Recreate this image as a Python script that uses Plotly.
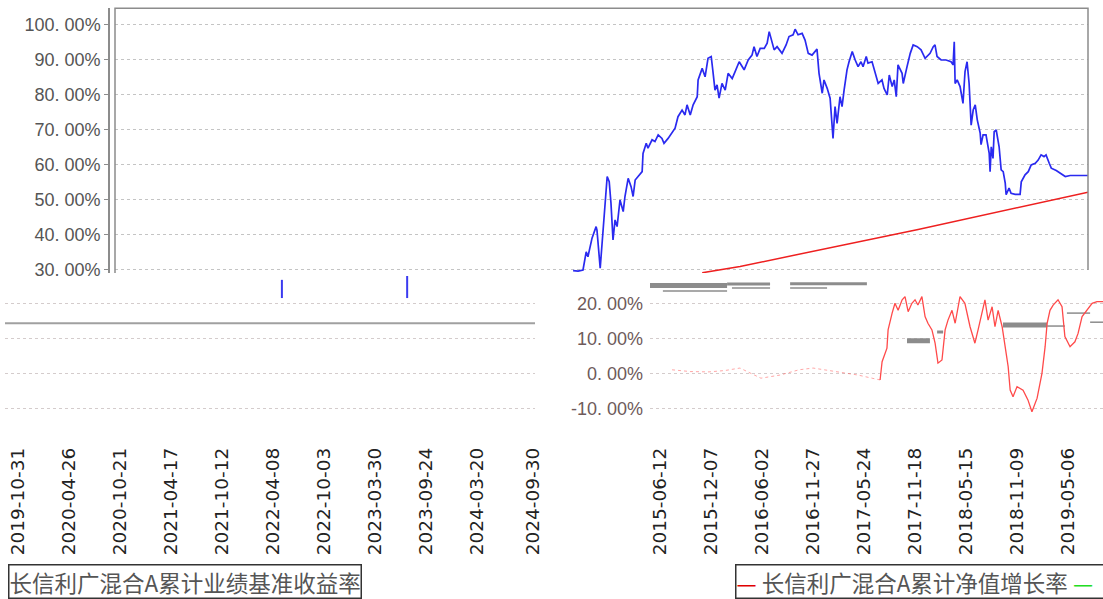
import plotly.graph_objects as go
import pandas as pd

W, H = 1103, 599

# ---------------- top panel (x = days from the first visible point) ----------------
top_days = [0,17,34,45,51,65,79,82,93,103,117,124,130,137,144,151,161,172,178,189,
            199,206,213,223,237,240,251,257,271,281,292,305,312,326,340,350,360,374,384,391,
            402,412,426,429,443,453,463,474,480,487,494,501,511,522,532,546,556,570,
            587,601,614,621,631,642,656,666,673,683,690,700,717,731,741,755,762,772,786,796,
            807,820,831,837,844,855,861,872,882,892,899,906,916,923,930,940,947,958,968,978,
            988,995,1006,1012,1026,1036,1047,1060,1067,1078,1085,1095,1102,1109,1115,1129,1133,1146,1157,1167,
            1181,1194,1208,1225,1236,1242,1249,1263,1280,1297,1304,1308,1311,1318,1328,1338,1345,1352,1359,1366,
            1373,1380,1387,1397,1400,1407,1417,1428,1431,1435,1441,1445,1452,1462,1469,1476,1483,1486,1496,1503,
            1517,1534,1538,1551,1562,1572,1586,1596,1606,1616,1623,1634,1641,1658,1675,1689,1706,1767]
top_fund = [29.6,29.5,29.8,35.0,33.6,38.9,42.2,41.2,30.3,42.2,56.5,55.0,48.9,38.4,44.1,42.2,49.8,46.5,50.8,56.0,
            53.6,50.8,55.5,56.5,57.9,63.1,66.0,64.6,67.0,66.5,68.4,67.4,66.0,67.4,69.3,70.3,73.6,75.5,74.1,77.0,
            74.1,77.0,79.3,84.1,87.4,85.0,90.3,90.8,86.5,81.2,82.7,78.9,83.1,81.2,86.0,84.5,86.5,89.3,
            87.0,89.8,91.2,93.6,90.8,93.1,93.1,94.6,97.9,94.6,92.7,93.6,91.7,94.1,96.5,97.0,98.6,97.0,97.4,95.5,
            91.7,91.2,92.2,92.9,86.0,80.3,84.1,81.7,78.9,67.4,76.5,71.7,79.3,76.5,81.2,87.0,89.3,92.2,89.8,87.9,
            89.3,87.9,90.8,88.9,89.3,86.5,83.1,84.1,81.7,79.8,85.5,82.2,84.1,79.3,88.4,86.0,83.1,87.9,91.7,94.1,
            93.6,92.7,90.3,91.7,93.6,94.1,90.8,89.8,89.8,89.3,88.4,95.0,83.1,84.1,82.2,77.4,86.5,89.3,83.1,71.2,
            75.5,77.0,72.7,68.9,65.6,68.4,68.4,63.1,57.9,65.0,61.7,69.3,69.8,65.0,58.4,57.9,54.6,51.3,53.2,51.7,
            51.4,51.4,55.0,57.0,57.9,59.8,60.3,61.2,62.7,62.2,62.7,60.3,58.9,58.2,57.4,56.5,56.8,56.8]
bench_days = [443, 573, 1184, 1767]
bench_vals = [29.0, 30.8, 41.4, 52.0]

top_yticks = [30, 40, 50, 60, 70, 80, 90, 100]
top_yticktext = ["30. 00%", "40. 00%", "50. 00%", "60. 00%", "70. 00%", "80. 00%", "90. 00%", "100. 00%"]

# ---------------- bottom panels ----------------
bl_ticks = ["2019-10-31", "2020-04-26", "2020-10-21", "2021-04-17", "2021-10-12", "2022-04-08",
            "2022-10-03", "2023-03-30", "2023-09-24", "2024-03-20", "2024-09-30"]
br_ticks = ["2015-06-12", "2015-12-07", "2016-06-02", "2016-11-27", "2017-05-24", "2017-11-18",
            "2018-05-15", "2018-11-09", "2019-05-06"]
bottom_yticks = [-10, 0, 10, 20]
bottom_yticktext = ["-10. 00%", "0. 00%", "10. 00%", "20. 00%"]

# bottom-left fragments
bl_gray_dates = ["2019-09-16", "2024-10-08"]
bl_gray_vals = [14.3, 14.3]
bl_blue_dates = ["2022-05-09", "2022-05-09", None, "2023-07-20", "2023-07-20"]
bl_blue_vals = [26.7, 21.5, None, 27.8, 21.5]

# bottom-right series (days from 2015-06-12)
br_base = "2015-06-12"
br_red_days = [42,105,171,227,279,352,419,485,534,618,691,740,764,
               768,775,792,796,810,820,831,845,855,866,879,890,900,914,925,935,949,960,970,984,
               995,1005,1019,1030,1047,1064,1082,1099,1110,1124,1134,1145,1159,1169,1180,1194,1204,1215,1222,1232,
               1246,1267,1284,1298,1316,1333,1344,1351,1361,1372,1389,1403,1413,1431,1448,1459,1473,1490,1508,1525,1546]
br_red_vals = [1.0,0.5,0.4,0.8,1.5,-1.4,-0.5,1.0,1.5,0.5,-0.5,-1.4,-2.0,
               -1.9,3.3,7.2,12.4,17.2,20,18,21,21.9,17.6,20,21,19.5,21.9,16.2,14.3,12.4,8.6,2.9,3.8,
               12.4,15.2,18,14.3,21.9,20,13.3,8.6,12.4,17.1,21,15.2,19,13.3,18,13.3,7.6,1.9,-4.8,-6.7,
               -3.8,-4.8,-7.6,-11,-7.1,0,7.6,14.3,18,19.5,21,19,10.5,7.6,9,11.4,16.2,18,20,20.5,20.5]
faint_n = 14

gray_thick_days = [862, 942, None, 1197, 1351, None, -35, 234]
gray_thick_vals = [9.3, 9.3, None, 13.8, 13.8, None, 25.1, 25.1]
gray_mid_days = [967, 988, None, 234, 384, None, 454, 722]
gray_mid_vals = [11.8, 11.8, None, 25.5, 25.5, None, 25.6, 25.6]
gray_thin_days = [1351, 1413, None, 1420, 1501, None, 1501, 1546, None, 10, 234, None, 251, 384, None, 454, 583]
gray_thin_vals = [13.5, 13.5, None, 17.2, 17.2, None, 14.6, 14.6, None, 23.5, 23.5, None, 24.4, 24.4, None, 24.4, 24.4]

legend_left = "长信利广混合A累计业绩基准收益率"
legend_right = "长信利广混合A累计净值增长率"


def to_dates(days):
    b = pd.Timestamp(br_base)
    return [None if d is None else (b + pd.Timedelta(days=d)).strftime("%Y-%m-%d") for d in days]


def fx(p):
    return p / W


def fy(p):
    return 1 - p / H


fig = go.Figure()

# top
fig.add_trace(go.Scatter(x=bench_days, y=bench_vals, mode="lines", line=dict(color="#ee2020", width=1.5),
                         xaxis="x", yaxis="y", showlegend=False))
fig.add_trace(go.Scatter(x=top_days, y=top_fund, mode="lines", line=dict(color="#2a2af0", width=1.7),
                         xaxis="x", yaxis="y", showlegend=False))

# bottom-left
fig.add_trace(go.Scatter(x=bl_gray_dates, y=bl_gray_vals, mode="lines", line=dict(color="#a0a0a0", width=2),
                         xaxis="x2", yaxis="y2", showlegend=False))
fig.add_trace(go.Scatter(x=bl_blue_dates, y=bl_blue_vals, mode="lines", line=dict(color="#3a3af0", width=2),
                         xaxis="x2", yaxis="y2", showlegend=False, connectgaps=False))

# bottom-right
fig.add_trace(go.Scatter(x=to_dates(gray_thick_days), y=gray_thick_vals, mode="lines",
                         line=dict(color="#8c8c8c", width=5), xaxis="x3", yaxis="y3", showlegend=False))
fig.add_trace(go.Scatter(x=to_dates(gray_mid_days), y=gray_mid_vals, mode="lines",
                         line=dict(color="#8c8c8c", width=3), xaxis="x3", yaxis="y3", showlegend=False))
fig.add_trace(go.Scatter(x=to_dates(gray_thin_days), y=gray_thin_vals, mode="lines",
                         line=dict(color="#8c8c8c", width=1.5), xaxis="x3", yaxis="y3", showlegend=False))
fig.add_trace(go.Scatter(x=to_dates(br_red_days[:faint_n]), y=br_red_vals[:faint_n], mode="lines",
                         line=dict(color="rgba(255,60,60,0.45)", width=1, dash="dot"),
                         xaxis="x3", yaxis="y3", showlegend=False))
fig.add_trace(go.Scatter(x=to_dates(br_red_days[faint_n - 1:]), y=br_red_vals[faint_n - 1:], mode="lines",
                         line=dict(color="#ff4a4a", width=1.3), xaxis="x3", yaxis="y3", showlegend=False))

grid_top = dict(gridcolor="#c4c4c4", griddash="3px,3px", gridwidth=1)
grid_bot = dict(gridcolor="#d4cccc", griddash="3px,3px", gridwidth=1)
ytick_font = dict(family="Liberation Sans, Arial", size=18, color="#555555")
xtick_font = dict(family="DejaVu Sans", size=18.5, color="#222222")

bot_dom = [fy(440), fy(276)]
bot_range = [20 - (440 - 303.3) / 3.5, 20 + (303.3 - 276) / 3.5]

fig.update_layout(
    template="none",
    width=W, height=H,
    margin=dict(l=0, r=0, t=0, b=0),
    paper_bgcolor="white", plot_bgcolor="rgba(0,0,0,0)",
    showlegend=False,
    xaxis=dict(domain=[fx(115), fx(1088)], range=[-1572, 1767], anchor="y", visible=False,
               showgrid=False, zeroline=False, automargin=False),
    yaxis=dict(domain=[fy(273), fy(8.3)], range=[100 - (273 - 24.3) / 3.5, 100 + (24.3 - 8.3) / 3.5],
               anchor="free", position=fx(109), tickvals=top_yticks, ticktext=top_yticktext,
               tickfont=ytick_font, showline=True, linecolor="#8c8c8c", linewidth=1.5,
               ticks="outside", ticklen=4, tickcolor="#8c8c8c", zeroline=False, automargin=False,
               **grid_top),
    xaxis2=dict(domain=[fx(5), fx(535)], range=["2019-09-16", "2024-10-08"], anchor="y2", type="date",
                tickvals=bl_ticks, ticktext=bl_ticks, tickangle=-90, tickfont=xtick_font,
                showgrid=False, zeroline=False, showline=False, ticks="", automargin=False,
                ticklabelstandoff=3),
    yaxis2=dict(domain=bot_dom, range=bot_range, anchor="x2", tickvals=bottom_yticks,
                showticklabels=False, ticks="", zeroline=False, showline=False, automargin=False,
                **grid_bot),
    xaxis3=dict(domain=[fx(650), fx(1103)], range=["2015-05-08", "2019-09-05"], anchor="y3", type="date",
                tickvals=br_ticks, ticktext=br_ticks, tickangle=-90, tickfont=xtick_font,
                showgrid=False, zeroline=False, showline=False, ticks="", automargin=False,
                ticklabelstandoff=3),
    yaxis3=dict(domain=bot_dom, range=bot_range, anchor="x3", tickvals=bottom_yticks,
                ticktext=bottom_yticktext, tickfont=dict(family="Liberation Sans, Arial", size=18, color="#6e5a5a"),
                ticks="", zeroline=False, showline=False, automargin=False, ticklabelstandoff=6,
                **grid_bot),
)

# frame of the top panel (left, top, right edges)
fig.add_shape(type="path", xref="paper", yref="paper",
              path=f"M {fx(115)} {fy(273)} L {fx(115)} {fy(8.3)} L {fx(1088)} {fy(8.3)} L {fx(1088)} {fy(270)}",
              line=dict(color="#8c8c8c", width=1.5))

# legend boxes
fig.add_annotation(xref="paper", yref="paper", x=fx(8), y=fy(564), xanchor="left", yanchor="top",
                   text=legend_left, showarrow=False,
                   font=dict(family="Noto Sans CJK SC", size=22.5, color="#555555"),
                   bordercolor="#333333", borderwidth=1.5, borderpad=0, bgcolor="white")
fig.add_annotation(xref="paper", yref="paper", x=fx(735), y=fy(564), xanchor="left", yanchor="top",
                   text=("<span style='color:#e00000'>—</span> " + legend_right +
                         " <span style='color:#22dd22'>—</span>&nbsp;&nbsp;&nbsp;&nbsp;&nbsp;&nbsp;"),
                   showarrow=False,
                   font=dict(family="Noto Sans CJK SC", size=22.5, color="#555555"),
                   bordercolor="#333333", borderwidth=1.5, borderpad=0, bgcolor="white")

fig.write_html("out.html", config={"displayModeBar": False},
               post_script="document.body.style.margin='0';document.body.style.overflow='hidden';")
